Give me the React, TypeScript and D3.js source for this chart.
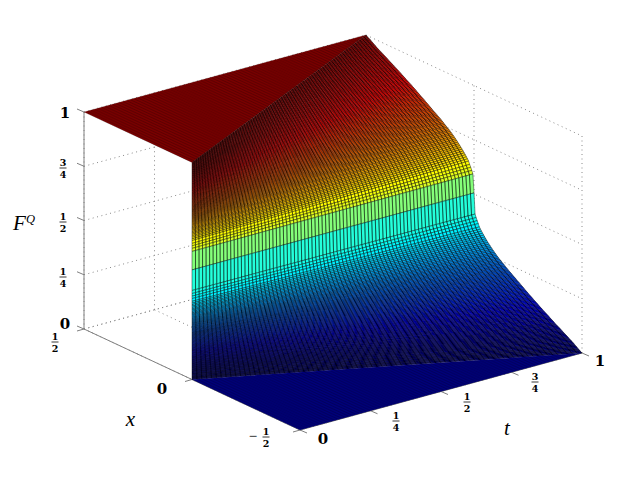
import React from "react";
import * as d3 from "d3";

// F^Q read along the t = 1 edge of the surface, one value per 0.005 of x/t from 0 up to 1/2
const profileCentre = 0.505;
const profileUpper = [
  0.59, 0.604, 0.616, 0.627, 0.64, 0.648, 0.655, 0.662, 0.6685, 0.675,
  0.681, 0.687, 0.693, 0.6985, 0.704, 0.7095, 0.7145, 0.7195, 0.7245, 0.729,
  0.7335, 0.738, 0.742, 0.746, 0.75, 0.754, 0.758, 0.762, 0.766, 0.77,
  0.7735, 0.777, 0.7805, 0.784, 0.7875, 0.791, 0.7945, 0.798, 0.8015, 0.805,
  0.8085, 0.812, 0.8155, 0.819, 0.8225, 0.826, 0.8295, 0.833, 0.8365, 0.84,
  0.8435, 0.847, 0.8505, 0.854, 0.857, 0.8605, 0.8635, 0.867, 0.87, 0.8735,
  0.877, 0.88, 0.883, 0.8865, 0.8895, 0.893, 0.896, 0.899, 0.902, 0.9055,
  0.9085, 0.9115, 0.9145, 0.918, 0.921, 0.924, 0.927, 0.93, 0.933, 0.936,
  0.939, 0.942, 0.945, 0.948, 0.951, 0.954, 0.957, 0.96, 0.963, 0.966,
  0.97, 0.973, 0.976, 0.98, 0.983, 0.987, 0.99, 0.993, 0.997, 1,
];
// the lower half mirrors the upper one about F = 1/2
const profile = [...[...profileUpper].reverse().map((v) => 1 - v), profileCentre, ...profileUpper];
const ratios = profile.map((_, i) => -0.5 + i * 0.005);
const tSamples = d3.range(0, 81).map((i) => i / 80);

const xTicks = [0.5, 0, -0.5];
const tTicks = [0, 0.25, 0.5, 0.75, 1];
const zTicks = [0, 0.25, 0.5, 0.75, 1];
const fractionLabels: Record<string, [string, string]> = {
  "0.25": ["1", "4"],
  "0.5": ["1", "2"],
  "0.75": ["3", "4"],
};

const xxScale = d3.scaleLinear().domain([-0.5, 0.5]).range([0, -216]);
const xyScale = d3.scaleLinear().domain([-0.5, 0.5]).range([0, -101]);
const txScale = d3.scaleLinear().domain([0, 1]).range([0, 282]);
const tyScale = d3.scaleLinear().domain([0, 1]).range([0, -77]);
const zyScale = d3.scaleLinear().domain([0, 1]).range([0, -217]);

const project = (x: number, t: number, z: number): [number, number] => [
  300 + xxScale(x) + txScale(t),
  430 + xyScale(x) + tyScale(t) + zyScale(z),
];

// MATLAB jet
const jet = (v: number) => {
  const c = (a: number) => Math.round(255 * Math.max(0, Math.min(1, 1.5 - Math.abs(4 * v - a))));
  return `rgb(${c(3)},${c(2)},${c(1)})`;
};

const seg = (pts: [number, number][]) => d3.line()(pts) as string;

// one path per row of constant x/t, each with its own flat colour
const rowPath = (i: number) => {
  const p = d3.path();
  for (let j = 0; j < tSamples.length - 1; j++) {
    const t0 = tSamples[j];
    const t1 = tSamples[j + 1];
    const a = project(ratios[i] * t0, t0, profile[i]);
    const b = project(ratios[i] * t1, t1, profile[i]);
    const c = project(ratios[i + 1] * t1, t1, profile[i + 1]);
    const d = project(ratios[i + 1] * t0, t0, profile[i + 1]);
    p.moveTo(a[0], a[1]);
    p.lineTo(b[0], b[1]);
    p.lineTo(c[0], c[1]);
    p.lineTo(d[0], d[1]);
    p.closePath();
  }
  return p.toString();
};

// the flat parts: plateau F = 1 and floor F = 0
const flatMesh = (z: number, sign: number) => {
  const p = d3.path();
  d3.range(0, 51).forEach((i) => {
    const x = (sign * i) / 100;
    const a = project(x, 0, z);
    const b = project(x, Math.min(1, 2 * Math.abs(x)), z);
    p.moveTo(a[0], a[1]);
    p.lineTo(b[0], b[1]);
  });
  tSamples.forEach((t) => {
    const a = project((sign * t) / 2, t, z);
    const b = project(sign * 0.5, t, z);
    p.moveTo(a[0], a[1]);
    p.lineTo(b[0], b[1]);
  });
  return p.toString();
};

const tick = { stroke: "#808080", strokeWidth: 1, fill: "none" };
const dotted = { stroke: "#8a8a8a", strokeWidth: 1, strokeDasharray: "1 3.5", fill: "none" };
const labelFont = "'DejaVu Serif', serif";
const mathFont = "'Liberation Serif', serif";

function Frac({ cx, cy, v }: { cx: number; cy: number; v: number }) {
  const [n, d] = fractionLabels[String(Math.abs(v))];
  return (
    <g fontFamily={labelFont} fontWeight="bold" fontSize={9.5} textAnchor="middle" fill="#000">
      <text x={cx} y={cy - 2.2}>{n}</text>
      <line x1={cx - 3.5} x2={cx + 3.5} y1={cy} y2={cy} stroke="#222" strokeWidth={0.9} />
      <text x={cx} y={cy + 9.8}>{d}</text>
    </g>
  );
}

function Big({ cx, cy, s }: { cx: number; cy: number; s: string }) {
  return (
    <text x={cx} y={cy + 5.5} fontFamily={labelFont} fontWeight="bold" fontSize={15} textAnchor="middle" fill="#000">
      {s}
    </text>
  );
}

export default function App() {
  const rows = d3.range(profile.length - 2, -1, -1);
  const corner = {
    plateau: [project(0.5, 0, 1), project(0.5, 1, 1), project(0, 0, 1)],
    floor: [project(-0.5, 0, 0), project(-0.5, 1, 0), project(0, 0, 0)],
  };

  return (
    <svg width={644} height={483} style={{ position: "absolute", left: 0, top: 0, background: "#fff" }}>
      {/* dotted grid on the two back walls and the floor */}
      <g>
        {zTicks.map((z) => (
          <g key={z}>
            <path d={seg([project(0.5, 0, z), project(0.5, 1, z)])} {...dotted} />
            <path d={seg([project(0.5, 1, z), project(-0.5, 1, z)])} {...dotted} />
          </g>
        ))}
        {tTicks.map((t) => (
          <g key={t}>
            <path d={seg([project(0.5, t, 0), project(0.5, t, 1)])} {...dotted} />
            <path d={seg([project(0.5, t, 0), project(-0.5, t, 0)])} {...dotted} />
          </g>
        ))}
        {xTicks.map((x) => (
          <g key={x}>
            <path d={seg([project(x, 1, 0), project(x, 1, 1)])} {...dotted} />
            <path d={seg([project(x, 0, 0), project(x, 1, 0)])} {...dotted} />
          </g>
        ))}
      </g>

      {/* axes and ticks */}
      <g>
        <path d={seg([project(0.5, 0, 0), project(0.5, 0, 1)])} {...tick} />
        <path d={seg([project(0.5, 0, 0), project(-0.5, 0, 0)])} {...tick} />
        <path d={seg([project(-0.5, 0, 0), project(-0.5, 1, 0)])} {...tick} />
        {zTicks.map((z) => {
          const [a, b] = project(0.5, 0, z);
          return <path key={z} d={seg([[a, b], [a - 7, b - 3]])} {...tick} />;
        })}
        {xTicks.map((x) => {
          const [a, b] = project(x, 0, 0);
          return <path key={x} d={seg([[a, b], [a - 7, b + 2]])} {...tick} />;
        })}
        {tTicks.map((t) => {
          const [a, b] = project(-0.5, t, 0);
          return <path key={t} d={seg([[a, b], [a + 7, b + 3]])} {...tick} />;
        })}
      </g>

      {/* surface, far to near */}
      <path d={`${seg(corner.plateau)}Z`} fill={jet(1)} />
      <path d={flatMesh(1, 1)} fill="none" stroke="#000" strokeWidth={0.15} />
      <g stroke="#000" strokeWidth={0.42}>
        {rows.map((i) => (
          <path key={i} d={rowPath(i)} fill={jet(profile[i])} />
        ))}
      </g>
      <path d={`${seg(corner.floor)}Z`} fill={jet(0)} />
      <path d={flatMesh(0, -1)} fill="none" stroke="#000" strokeWidth={0.15} />

      {/* labels */}
      <Big cx={65} cy={112} s="1" />
      <Frac cx={63} cy={168} v={0.75} />
      <Frac cx={63} cy={222} v={0.5} />
      <Frac cx={63} cy={277} v={0.25} />
      <Big cx={65} cy={323} s="0" />
      <Frac cx={55} cy={342} v={0.5} />
      <Big cx={162} cy={388} s="0" />
      <text x={253} y={441} fontFamily={mathFont} fontSize={15} textAnchor="middle">−</text>
      <Frac cx={266} cy={437} v={-0.5} />
      <Big cx={323} cy={438} s="0" />
      <Frac cx={396} cy={421} v={0.25} />
      <Frac cx={467} cy={402} v={0.5} />
      <Frac cx={535} cy={382} v={0.75} />
      <Big cx={600} cy={360} s="1" />
      <text x={13} y={230} fontFamily={mathFont} fontStyle="italic" fontSize={21}>F</text>
      <text x={26} y={223} fontFamily={mathFont} fontStyle="italic" fontSize={12.5}>Q</text>
      <text x={130.5} y={426} fontFamily={mathFont} fontStyle="italic" fontSize={21} textAnchor="middle">x</text>
      <text x={507} y={435} fontFamily={mathFont} fontStyle="italic" fontSize={21} textAnchor="middle">t</text>
    </svg>
  );
}
